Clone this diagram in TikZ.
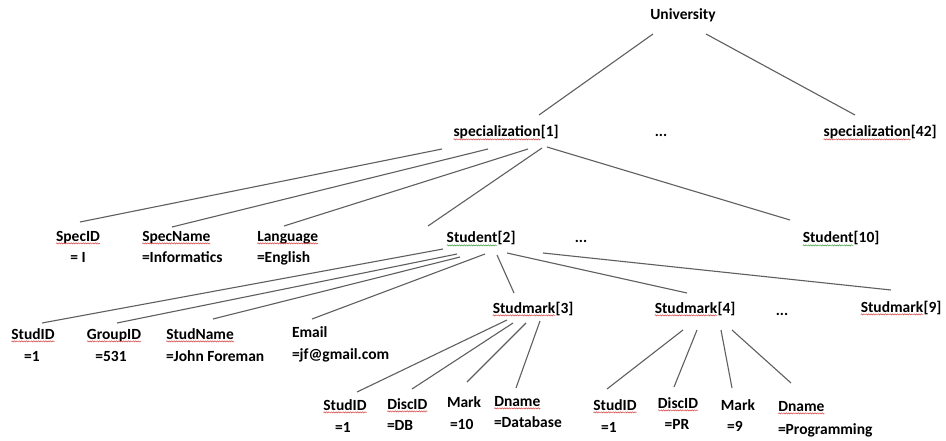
\documentclass[tikz,border=0pt]{standalone}
\usepackage{fontspec}
\setmainfont{Carlito}
\usetikzlibrary{decorations.pathmorphing}
\definecolor{ln}{RGB}{95,95,95}
\definecolor{wred}{RGB}{215,70,70}
\definecolor{wgreen}{RGB}{70,160,70}
\newcommand\wv[2]{\tikz[baseline=(wv.base)]{\node[inner sep=0pt,outer sep=0pt,anchor=base,text height=,text depth=] (wv) {#2};\draw[#1,line width=0.5pt,decorate,decoration={snake,amplitude=0.6pt,segment length=2.4pt}] ([yshift=-2.4pt]wv.base west) -- ([yshift=-2.4pt]wv.base east);}}
\newcommand\conn[4]{\draw[conn] ([shift={(#2)}]#1) -- ([shift={(#4)}]#3);}
\tikzset{
  lbl/.style={inner sep=0pt,outer sep=0pt,font=\fontsize{15.5}{18}\selectfont\bfseries,text height=11pt,text depth=3pt},
  conn/.style={draw=ln,line width=1.1pt}
}
\begin{document}
\begin{tikzpicture}[x=1pt,y=-1pt]
\useasboundingbox[fill=white] (0,0) rectangle (946,441);
% level 0-1
\node[lbl] (univ) at (683,16) {University};
\node[lbl] (spec1) at (506,133) {\wv{wred}{specialization}[1]};
\node[lbl] (dots1) at (661,133) {...};
\node[lbl] (spec42) at (880,133) {\wv{wred}{specialization}[42]};
% level 2
\node[lbl] (specid) at (78,237) {\wv{wred}{SpecID}};
\node[lbl] (specidv) at (78,258) {= I};
\node[lbl,anchor=west] (specname) at (142,237) {\wv{wred}{SpecName}};
\node[lbl,anchor=west] (specnamev) at (142,258) {=Informatics};
\node[lbl,anchor=west] (lang) at (257,237) {\wv{wred}{Language}};
\node[lbl,anchor=west] (langv) at (257,258) {=English};
\node[lbl] (st2) at (481,239) {\wv{wgreen}{Student}[2]};
\node[lbl] (dots2) at (581,239) {...};
\node[lbl] (st10) at (841,239) {\wv{wgreen}{Student}[10]};
% level 3
\node[lbl] (sid) at (33,335) {\wv{wred}{StudID}};
\node[lbl] (sidv) at (32,357) {=1};
\node[lbl] (gid) at (114,335) {\wv{wred}{GroupID}};
\node[lbl] (gidv) at (111,357) {=531};
\node[lbl,anchor=west] (sname) at (166,335) {\wv{wred}{StudName}};
\node[lbl,anchor=west] (snamev) at (166,357) {=John Foreman};
\node[lbl,anchor=west] (email) at (292,333) {Email};
\node[lbl,anchor=west] (emailv) at (292,355) {=jf@gmail.com};
\node[lbl] (sm3) at (533,309) {\wv{wred}{Studmark}[3]};
\node[lbl] (sm4) at (695,309) {\wv{wred}{Studmark}[4]};
\node[lbl] (dots3) at (782,311) {...};
\node[lbl] (sm9) at (901,308) {\wv{wred}{Studmark}[9]};
% level 4 left
\node[lbl] (asid) at (345,406) {\wv{wred}{StudID}};
\node[lbl] (asidv) at (343,428) {=1};
\node[lbl,anchor=west] (adisc) at (387,405) {\wv{wred}{DiscID}};
\node[lbl,anchor=west] (adiscv) at (387,426) {=DB};
\node[lbl,anchor=west] (amark) at (447,403) {Mark};
\node[lbl,anchor=west] (amarkv) at (450,425) {=10};
\node[lbl,anchor=west] (adn) at (494,402) {\wv{wred}{Dname}};
\node[lbl,anchor=west] (adnv) at (494,423) {=Database};
% level 4 right
\node[lbl] (bsid) at (615,406) {\wv{wred}{StudID}};
\node[lbl] (bsidv) at (609,428) {=1};
\node[lbl] (bdisc) at (678,404) {\wv{wred}{DiscID}};
\node[lbl] (bdiscv) at (677,425) {=PR};
\node[lbl] (bmark) at (738,406) {Mark};
\node[lbl] (bmarkv) at (735,427) {=9};
\node[lbl,anchor=west] (bdn) at (778,407) {\wv{wred}{Dname}};
\node[lbl,anchor=west] (bdnv) at (778,430) {=Programming};
% connectors
\conn{univ.center}{-30,18}{spec1.center}{33,-18}
\conn{univ.center}{23,18}{spec42.center}{-25,-18}
\conn{spec1.center}{-64,16}{specid.center}{2,-15}
\conn{spec1.center}{-18,16}{specname.west}{30,-10}
\conn{spec1.center}{22,16}{lang.west}{27,-11}
\conn{spec1.center}{36,15}{st2.center}{-53,-13}
\conn{spec1.center}{41,14}{st10.center}{-51,-19}
\conn{st2.center}{-38,10}{sid.center}{9,-12}
\conn{st2.center}{-24,15}{gid.center}{3,-12}
\conn{st2.center}{-21,18}{sname.west}{47,-16}
\conn{st2.center}{4,15}{email.west}{20,-14}
\conn{st2.center}{16,16}{sm3.center}{-19,-16}
\conn{st2.center}{26,14}{sm4.center}{-8,-16}
\conn{st2.center}{62,14}{sm9.center}{-10,-18}
\conn{sm3.center}{-26,11}{asid.center}{12,-14}
\conn{sm3.center}{-20,14}{adisc.west}{25,-16}
\conn{sm3.center}{-7,14}{amark.west}{20,-21}
\conn{sm3.center}{7,12}{adn.west}{22,-14}
\conn{sm4.center}{-12,21}{bsid.center}{-8,-17}
\conn{sm4.center}{2,21}{bdisc.center}{-4,-17}
\conn{sm4.center}{26,21}{bmark.center}{-6,-18}
\conn{sm4.center}{37,21}{bdn.west}{13,-24}
\end{tikzpicture}
\end{document}
